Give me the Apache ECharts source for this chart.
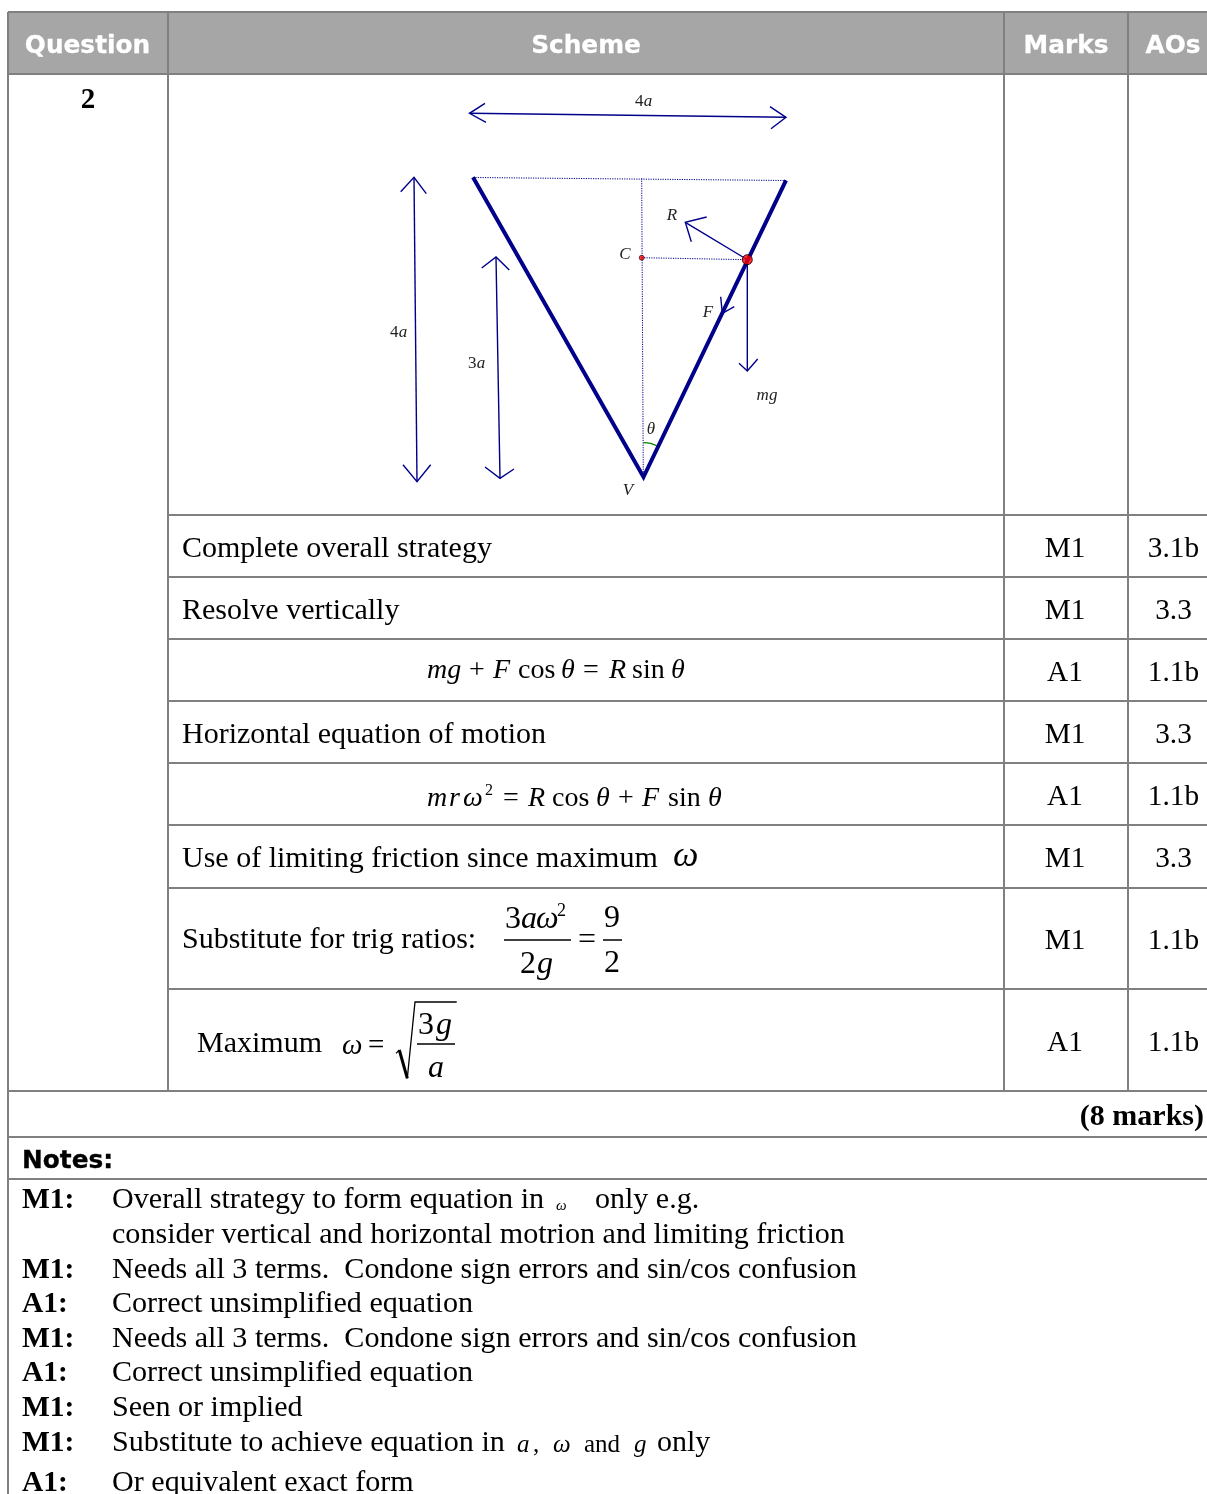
<!DOCTYPE html>
<html><head><meta charset="utf-8">
<style>html,body{margin:0;padding:0;background:#fff}#c{width:1207px;height:1494px}</style>
<script src="https://cdn.jsdelivr.net/npm/echarts@6/dist/echarts.min.js"></script>
</head><body><div id="c"></div>
<script>
// ---- table content ----
const headers = ['Question','Scheme','Marks','AOs'];
const questionNo = '2';
const schemeLines = ['Complete overall strategy','Resolve vertically','Horizontal equation of motion','Use of limiting friction since maximum','Substitute for trig ratios:','Maximum'];
const marks = ['M1','M1','A1','M1','A1','M1','M1','A1'];
const aos = ['3.1b','3.3','1.1b','3.3','1.1b','3.3','1.1b','1.1b'];
const totalMarks = '(8 marks)';
const notesTitle = 'Notes:';
const noteLabels = ['M1:','M1:','A1:','M1:','A1:','M1:','M1:','A1:'];
const noteTexts = ['Overall strategy to form equation in','Needs all 3 terms.  Condone sign errors and sin/cos confusion','Correct unsimplified equation','Needs all 3 terms.  Condone sign errors and sin/cos confusion','Correct unsimplified equation','Seen or implied','Substitute to achieve equation in','Or equivalent exact form'];
const noteExtra = 'consider vertical and horizontal motrion and limiting friction';

// ---- diagram geometry (page scale) ----
const coneV = [[473,177.3],[643.5,477],[786,180.3]];
const dottedTop = [[473,177.5],[786,180.5]];
const dottedAxis = [[641.7,178.3],[643.3,478]];
const dottedRadius = [[641.7,257.7],[747.3,259.7]];
const arrowTop = [[469.5,113.3],[786,117.3]];
const arrowTopHeadA = [[485,103.3],[469.5,113.3],[486,122.3]];
const arrowTopHeadB = [[770,106.7],[786,117.3],[771,128.7]];
const arrow4a = [[414,177.3],[417,481.7]];
const arrow4aHeadA = [[400.7,191.7],[414,177.3],[426.3,193.7]];
const arrow4aHeadB = [[403,464.7],[417,481.7],[430.7,464.7]];
const arrow3a = [[496,257],[500,478.3]];
const arrow3aHeadA = [[481.7,268],[496,257],[509.3,270]];
const arrow3aHeadB = [[485,467],[500,478.3],[514,469]];
const arrowR = [[747,259.5],[685.3,222.3]];
const arrowRHead = [[706.7,217],[685.3,222.3],[691.3,241.7]];
const arrowMg = [[747.3,260],[747.3,371]];
const arrowMgHead = [[739,363.3],[747.3,371],[757.7,359]];
const arrowFHead = [[720.7,296.7],[722.3,313.3],[734.3,306.7]];
const angleArc = [[643.3,442.7],[647,442.8],[650.7,443.4],[654,444.6],[657.3,446]];
const pointC = [641.7,257.7];
const pointP = [747.3,259.7];
const radicalThin = [[396,1053.3],[399.3,1050]];
const radicalDown = [[399.3,1050],[407.3,1078.3]];
const radicalUp = [[407.3,1078.3],[415,1002],[456.7,1002]];
const fracBars = [[[504,940],[571,940]],[[603,940],[622,940]],[[417,1044],[455,1044]]];

// ---- table rules ----
const tableTop = 12, headerBottom = 74, schemeBottom = 1091, pageBottom = 1494, pageRight = 1207;
const colX = [8,168,1004,1128];
const ruleYFull = [12,74,1091,1137,1179];
const ruleYInner = [515,577,639,701,763,825,888,989];

const SERIF = '"Liberation Serif","Times New Roman",serif';
const SANS = '"DejaVu Sans",Verdana,sans-serif';
const BLUE = '#00008b', GREY = '#808080';

// ---- text layout ----
const T = [];
function put(s,x,y,size,o){ o=o||{}; T.push({s,x,y:y+2,size,align:o.a||'left',bold:o.b,ital:o.i,fam:o.f||SERIF,col:o.c||'#000'}); }
const hx=[87.5,586,1066,1173];
headers.forEach((h,i)=>put(h,hx[i],45,24.8,{a:'center',b:1,f:SANS,c:'#fff'}));
put(questionNo,88,99,29,{a:'center',b:1});
const sy=[547,609,733,857,938,1042], sx=[182,182,182,182,182,197];
schemeLines.forEach((s,i)=>put(s,sx[i],sy[i]+0.5,30));
const my=[547,609,671,733,795,857,939,1041];
marks.forEach((m,i)=>put(m,1065,my[i]+0.5,29.3,{a:'center'}));
aos.forEach((m,i)=>put(m,1173.5,my[i]+0.5,29.3,{a:'center'}));
put(totalMarks,1204,1115,30,{a:'right',b:1});
put(notesTitle,22,1160,24.8,{b:1,f:SANS});
const ny=[1198,1268,1302,1337,1371,1406,1441,1481];
noteLabels.forEach((s,i)=>put(s,22,ny[i]+0.5,29.5,{b:1}));
noteTexts.forEach((s,i)=>put(s,112,ny[i]+0.5,30.1));
put(noteExtra,112,1233.5,30.1);
put('only e.g.',595,1198.5,30);
put('ω',556,1204,15,{i:1});
put('a',517,1443,25,{i:1}); put(',',533,1443,25); put('ω',553,1443,25,{i:1});
put('and',584,1443,25); put('g',634,1443,25,{i:1}); put('only',657,1441,30);
// diagram labels
const dl=(s,x,y,a)=>put(s,x,y,17,{a:a||'center',i:1,c:'#222'});
put('4',635,100,17,{c:'#222'}); dl('a',648,100);
put('4',390,331,17,{c:'#222'}); dl('a',403,331);
put('3',468,362,17,{c:'#222'}); dl('a',481,362);
dl('R',672,214); dl('C',625,253); dl('F',708,311); dl('mg',767,394); dl('θ',651,428); dl('V',628,489);
// equations
const eq=(list,y,size)=>list.forEach(p=>put(p[0],p[1],p[3]||y,p[4]||size,{i:p[2]}));
eq([['mg',427,1],['+',469],['F',493,1],['cos',518],['θ',561,1],['=',583],['R',609,1],['sin',632],['θ',671,1]],669,28);
eq([['m',427,1],['r',449,1],['ω',463,1],['2',485,0,789,16],['=',503],['R',528,1],['cos',552],['θ',596,1],['+',618],['F',642,1],['sin',668],['θ',708,1]],797,28);
put('ω',673,855,36,{i:1});
eq([['3',505],['a',521,1],['ω',536,1],['2',557,0,909,18],['2',520,0,963],['g',537,1,963],['=',578,0,939],['9',604,0,917],['2',604,0,962]],918,32);
eq([['ω',342,1,1044,29],['=',368,0,1044,29],['3',418,0,1024],['g',436,1,1024],['a',428,1,1067]],1024,32);

const poly=(data,w,color,extra)=>({type:'line',data,showSymbol:false,symbol:'none',silent:true,animation:false,
  lineStyle:Object.assign({width:w,color,cap:'butt',join:'miter'},extra||{}),z:3});
const series=[];
// header fill
const headerBand=[[colX[0],tableTop,pageRight,headerBottom]];
series.push({type:'custom',data:headerBand,silent:true,animation:false,z:1,encode:{x:[0,2],y:[1,3]},clip:false,
  renderItem:(p,api)=>{const a=api.coord([api.value(0),api.value(1)]),b=api.coord([api.value(2),api.value(3)]);
    return {type:'rect',shape:{x:a[0],y:a[1],width:b[0]-a[0],height:b[1]-a[1]},style:{fill:'#a6a6a6'}};}});
// rules
ruleYFull.forEach(y=>series.push(poly([[colX[0],y],[pageRight,y]],2,GREY)));
ruleYInner.forEach(y=>series.push(poly([[colX[1],y],[pageRight,y]],2,GREY)));
series.push(poly([[colX[0],tableTop],[colX[0],pageBottom]],2,GREY));
colX.slice(1).forEach(x=>series.push(poly([[x,tableTop],[x,schemeBottom]],2,GREY)));
// diagram
[dottedTop,dottedAxis,dottedRadius].forEach(d=>series.push(poly(d,1,BLUE,{type:[1.2,1.2]})));
[arrowTop,arrowTopHeadA,arrowTopHeadB,arrow4a,arrow4aHeadA,arrow4aHeadB,arrow3a,arrow3aHeadA,arrow3aHeadB,arrowR,arrowRHead,arrowMg,arrowMgHead,arrowFHead]
  .forEach(d=>series.push(poly(d,1.4,BLUE)));
series.push(Object.assign(poly(coneV,4,BLUE),{z:4}));
series.push(poly(angleArc,1.2,'#008000'));
series.push({type:'scatter',data:[pointC],symbolSize:5,silent:true,animation:false,z:5,itemStyle:{color:'#ff0000',borderColor:'#000',borderWidth:0.7}});
series.push({type:'scatter',data:[pointP],symbolSize:10,silent:true,animation:false,z:5,itemStyle:{color:'#ff0000',borderColor:'#000',borderWidth:1}});
// maths strokes
series.push(poly(radicalThin,1.2,'#000'));
series.push(poly(radicalDown,3,'#000'));
series.push(poly(radicalUp,1.3,'#000'));
fracBars.forEach(b=>series.push(poly(b,1.5,'#000')));
// all text
series.push({type:'custom',data:T.map(t=>[t.x,t.y]),silent:true,animation:false,z:6,clip:false,
  renderItem:(p,api)=>{const t=T[p.dataIndex],c=api.coord([t.x,t.y]);
    const heavy=t.bold&&t.fam===SANS;
    return {type:'text',x:c[0],y:c[1],style:{text:t.s,fill:t.col,textAlign:t.align,textVerticalAlign:'middle',
      stroke:heavy?t.col:null,lineWidth:heavy?0.3:0,
      font:(t.ital?'italic ':'')+(t.bold?'bold ':'')+t.size+'px '+t.fam}};}});

const chart=echarts.init(document.getElementById('c'),null,{renderer:'canvas'});
chart.setOption({
  animation:false,backgroundColor:'#fff',tooltip:{show:false},legend:{show:false},
  grid:{left:0,right:0,top:0,bottom:0,containLabel:false},
  xAxis:{type:'value',min:0,max:1207,show:false},
  yAxis:{type:'value',min:0,max:1494,inverse:true,show:false},
  series
});
</script></body></html>
